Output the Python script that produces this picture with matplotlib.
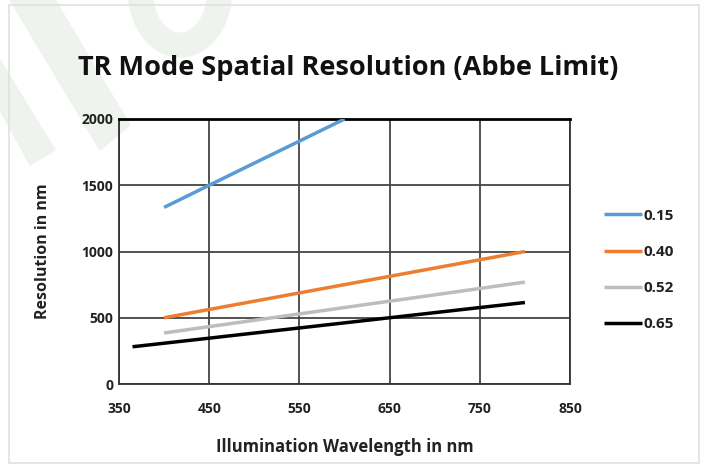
import matplotlib.pyplot as plt
from matplotlib.patches import Polygon, Rectangle, Arc

# wavelength (nm) and Abbe resolution (nm) per numerical aperture
na_labels = ["0.15", "0.40", "0.52", "0.65"]
wl_015 = [400, 450, 500, 550, 600]
res_015 = [1333, 1500, 1667, 1833, 2000]
wl_040 = [400, 500, 600, 700, 800]
res_040 = [500, 625, 750, 875, 1000]
wl_052 = [400, 500, 600, 700, 800]
res_052 = [385, 481, 577, 673, 769]
wl_065 = [365, 450, 550, 650, 750, 800]
res_065 = [281, 346, 423, 500, 577, 615]

colors = ["#5B9BD5", "#ED7D31", "#BDBDBD", "#000000"]

plt.rcParams['font.family'] = ['Open Sans', 'DejaVu Sans']

fig = plt.figure(figsize=(7.09, 4.70), dpi=100)
W, H = 709, 470

def px(x, y):
    return (x / W, 1 - y / H)

# faint watermark in the corner
wm = "#eef3ed"
fig.patches.append(Polygon([px(10, 0), px(55, 0), px(130, 125), px(100, 150)],
                           closed=True, transform=fig.transFigure, color=wm, zorder=-5))
fig.patches.append(Polygon([px(0, 60), px(0, 110), px(30, 165), px(55, 150)],
                           closed=True, transform=fig.transFigure, color=wm, zorder=-5))
fig.patches.append(Arc(px(180, -10), 80 / W, 110 / H, theta1=190, theta2=360,
                       transform=fig.transFigure, color=wm, lw=18, zorder=-5))

# light frame
fig.patches.append(Rectangle(px(9, 463), 690 / W, 458 / H, transform=fig.transFigure,
                             fill=False, edgecolor="#e0e0e0", lw=1.2, zorder=-4))

ax = fig.add_axes([119 / W, 1 - 384 / H, (570 - 119) / W, (384 - 119) / H])
ax.patch.set_alpha(0)

series = [(wl_015, res_015), (wl_040, res_040), (wl_052, res_052), (wl_065, res_065)]
for (x, y), lab, c in zip(series, na_labels, colors):
    ax.plot(x, y, color=c, lw=2.5, label=lab, solid_capstyle="butt", zorder=3)

ax.set_xlim(350, 850)
ax.set_ylim(0, 2000)
ax.set_xticks([350, 450, 550, 650, 750, 850])
ax.set_yticks([0, 500, 1000, 1500, 2000])
ax.grid(True, color="#444444", lw=1.3)
ax.set_axisbelow(True)
for s in ax.spines.values():
    s.set_color("#333333")
    s.set_linewidth(1.3)
ax.spines["top"].set_color("black")
ax.spines["top"].set_linewidth(2)
ax.tick_params(length=0, labelsize=10, colors="#222222")
ax.tick_params(axis="x", pad=13)
ax.tick_params(axis="y", pad=4)
for t in ax.get_xticklabels() + ax.get_yticklabels():
    t.set_fontweight("bold")

ax.set_xlabel("Illumination Wavelength in nm", fontsize=12, fontweight="bold",
              color="#222222", labelpad=16)
ax.set_ylabel("Resolution in nm", fontsize=11.5, fontweight="bold",
              color="#222222", labelpad=22)

fig.text(px(348, 68)[0], px(348, 68)[1], "TR Mode Spatial Resolution (Abbe Limit)",
         ha="center", va="center", fontsize=19.5, fontweight="bold", color="#111111")

leg = fig.legend(loc="center left", bbox_to_anchor=px(590, 270), frameon=False,
                 fontsize=11, handlelength=2.5, handletextpad=0.1, labelspacing=1.45)
for t in leg.get_texts():
    t.set_fontweight("bold")
    t.set_color("#222222")

fig.savefig("out.png", dpi=100)
